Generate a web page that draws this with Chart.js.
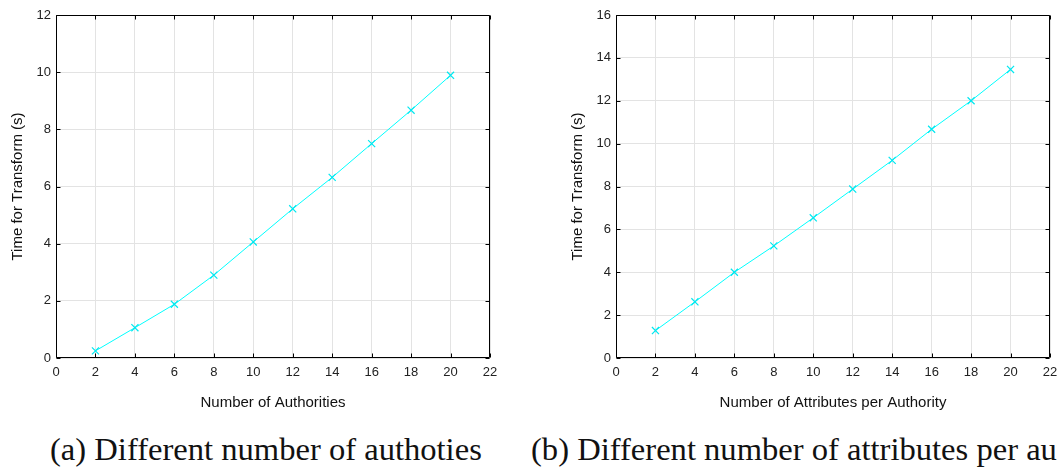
<!DOCTYPE html>
<html>
<head>
<meta charset="utf-8">
<script src="https://cdn.jsdelivr.net/npm/chart.js@4.4.1/dist/chart.umd.min.js"></script>
<style>
  html, body { margin: 0; padding: 0; background: #fff; }
  body { width: 1057px; height: 469px; overflow: hidden; position: relative; }
  canvas { position: absolute; top: 0; }
  #c1 { left: 0; }
  #c2 { left: 560px; }
  .cap { position: absolute; top: 433px; font-family: "Liberation Serif", "Times New Roman", serif;
         font-size: 32.6px; line-height: 32px; color: #111; white-space: nowrap; }
</style>
</head>
<body>
<canvas id="c1" width="530" height="420"></canvas>
<canvas id="c2" width="497" height="420"></canvas>
<div class="cap" style="left:50px">(a) Different number of authoties</div>
<div class="cap" style="left:531px">(b) Different number of attributes per authority</div>
<script>
// ---- data ----
const xValues = [2, 4, 6, 8, 10, 12, 14, 16, 18, 20];
const authorityTimes = [0.25, 1.06, 1.88, 2.90, 4.06, 5.22, 6.32, 7.50, 8.67, 9.89];
const attributeTimes = [1.28, 2.62, 4.00, 5.23, 6.54, 7.88, 9.22, 10.67, 12.00, 13.46];
const yTitle = "Time for Transform (s)";
const xTitleA = "Number of Authorities";
const xTitleB = "Number of Attributes per Authority";
const xMax = 22;
const yMaxA = 12;
const yMaxB = 16;

const tickFont = { family: "'Liberation Sans', Arial, sans-serif", size: 13 };
const titleFont = { family: "'Liberation Sans', Arial, sans-serif", size: 15 };

const framePlugin = {
  id: 'frame',
  afterDraw(chart) {
    const { ctx, chartArea: a, scales } = chart;
    ctx.save();
    ctx.strokeStyle = '#000';
    ctx.lineWidth = 1;
    const L = Math.round(a.left) + 0.5, R = Math.round(a.right) - 0.5;
    const T = Math.round(a.top) + 0.5, B = Math.round(a.bottom) - 0.5;
    ctx.beginPath();
    ctx.rect(L, T, R - L, B - T);
    const tl = 4;
    scales.x.ticks.forEach(t => {
      const px = Math.round(scales.x.getPixelForValue(t.value)) + 0.5;
      ctx.moveTo(px, B); ctx.lineTo(px, B - tl);
      ctx.moveTo(px, T); ctx.lineTo(px, T + tl);
    });
    scales.y.ticks.forEach(t => {
      const py = Math.round(scales.y.getPixelForValue(t.value)) + 0.5;
      ctx.moveTo(L, py); ctx.lineTo(L + tl, py);
      ctx.moveTo(R, py); ctx.lineTo(R - tl, py);
    });
    ctx.stroke();
    ctx.restore();
  }
};

function makeChart(id, values, xTitle, yMax, padRight) {
  return new Chart(document.getElementById(id), {
    type: 'line',
    data: {
      datasets: [{
        data: xValues.map((x, i) => ({ x: x, y: values[i] })),
        borderColor: '#00ffff',
        backgroundColor: '#00ffff',
        borderWidth: 1,
        pointStyle: 'crossRot',
        pointRadius: 5,
        pointBorderWidth: 1.2,
        pointBorderColor: '#00e8f0',
        tension: 0,
        fill: false
      }]
    },
    options: {
      responsive: false,
      animation: false,
      events: [],
      layout: { padding: { top: 15, right: padRight, left: 0, bottom: 0 } },
      plugins: { legend: { display: false }, tooltip: { enabled: false } },
      scales: {
        x: {
          type: 'linear', min: 0, max: xMax,
          ticks: { stepSize: 2, padding: 7, color: '#222', font: tickFont, maxRotation: 0 },
          grid: { color: '#e3e3e3', drawTicks: false },
          border: { display: false },
          title: { display: true, text: xTitle, color: '#111', font: titleFont, padding: { top: 0, bottom: 8 } },
          afterFit(s) { s.height = 62; s.paddingLeft = 0; s.paddingRight = 0; }
        },
        y: {
          type: 'linear', min: 0, max: yMax,
          ticks: { stepSize: 2, padding: 5, color: '#222', font: tickFont },
          grid: { color: '#e3e3e3', drawTicks: false },
          border: { display: false },
          title: { display: true, text: yTitle, color: '#111', font: titleFont, padding: { top: 8.5, bottom: 0 } },
          afterFit(s) { s.width = 56; s.paddingTop = 0; s.paddingBottom = 0; }
        }
      }
    },
    plugins: [framePlugin]
  });
}

makeChart('c1', authorityTimes, xTitleA, yMaxA, 40);
makeChart('c2', attributeTimes, xTitleB, yMaxB, 7);
</script>
</body>
</html>
